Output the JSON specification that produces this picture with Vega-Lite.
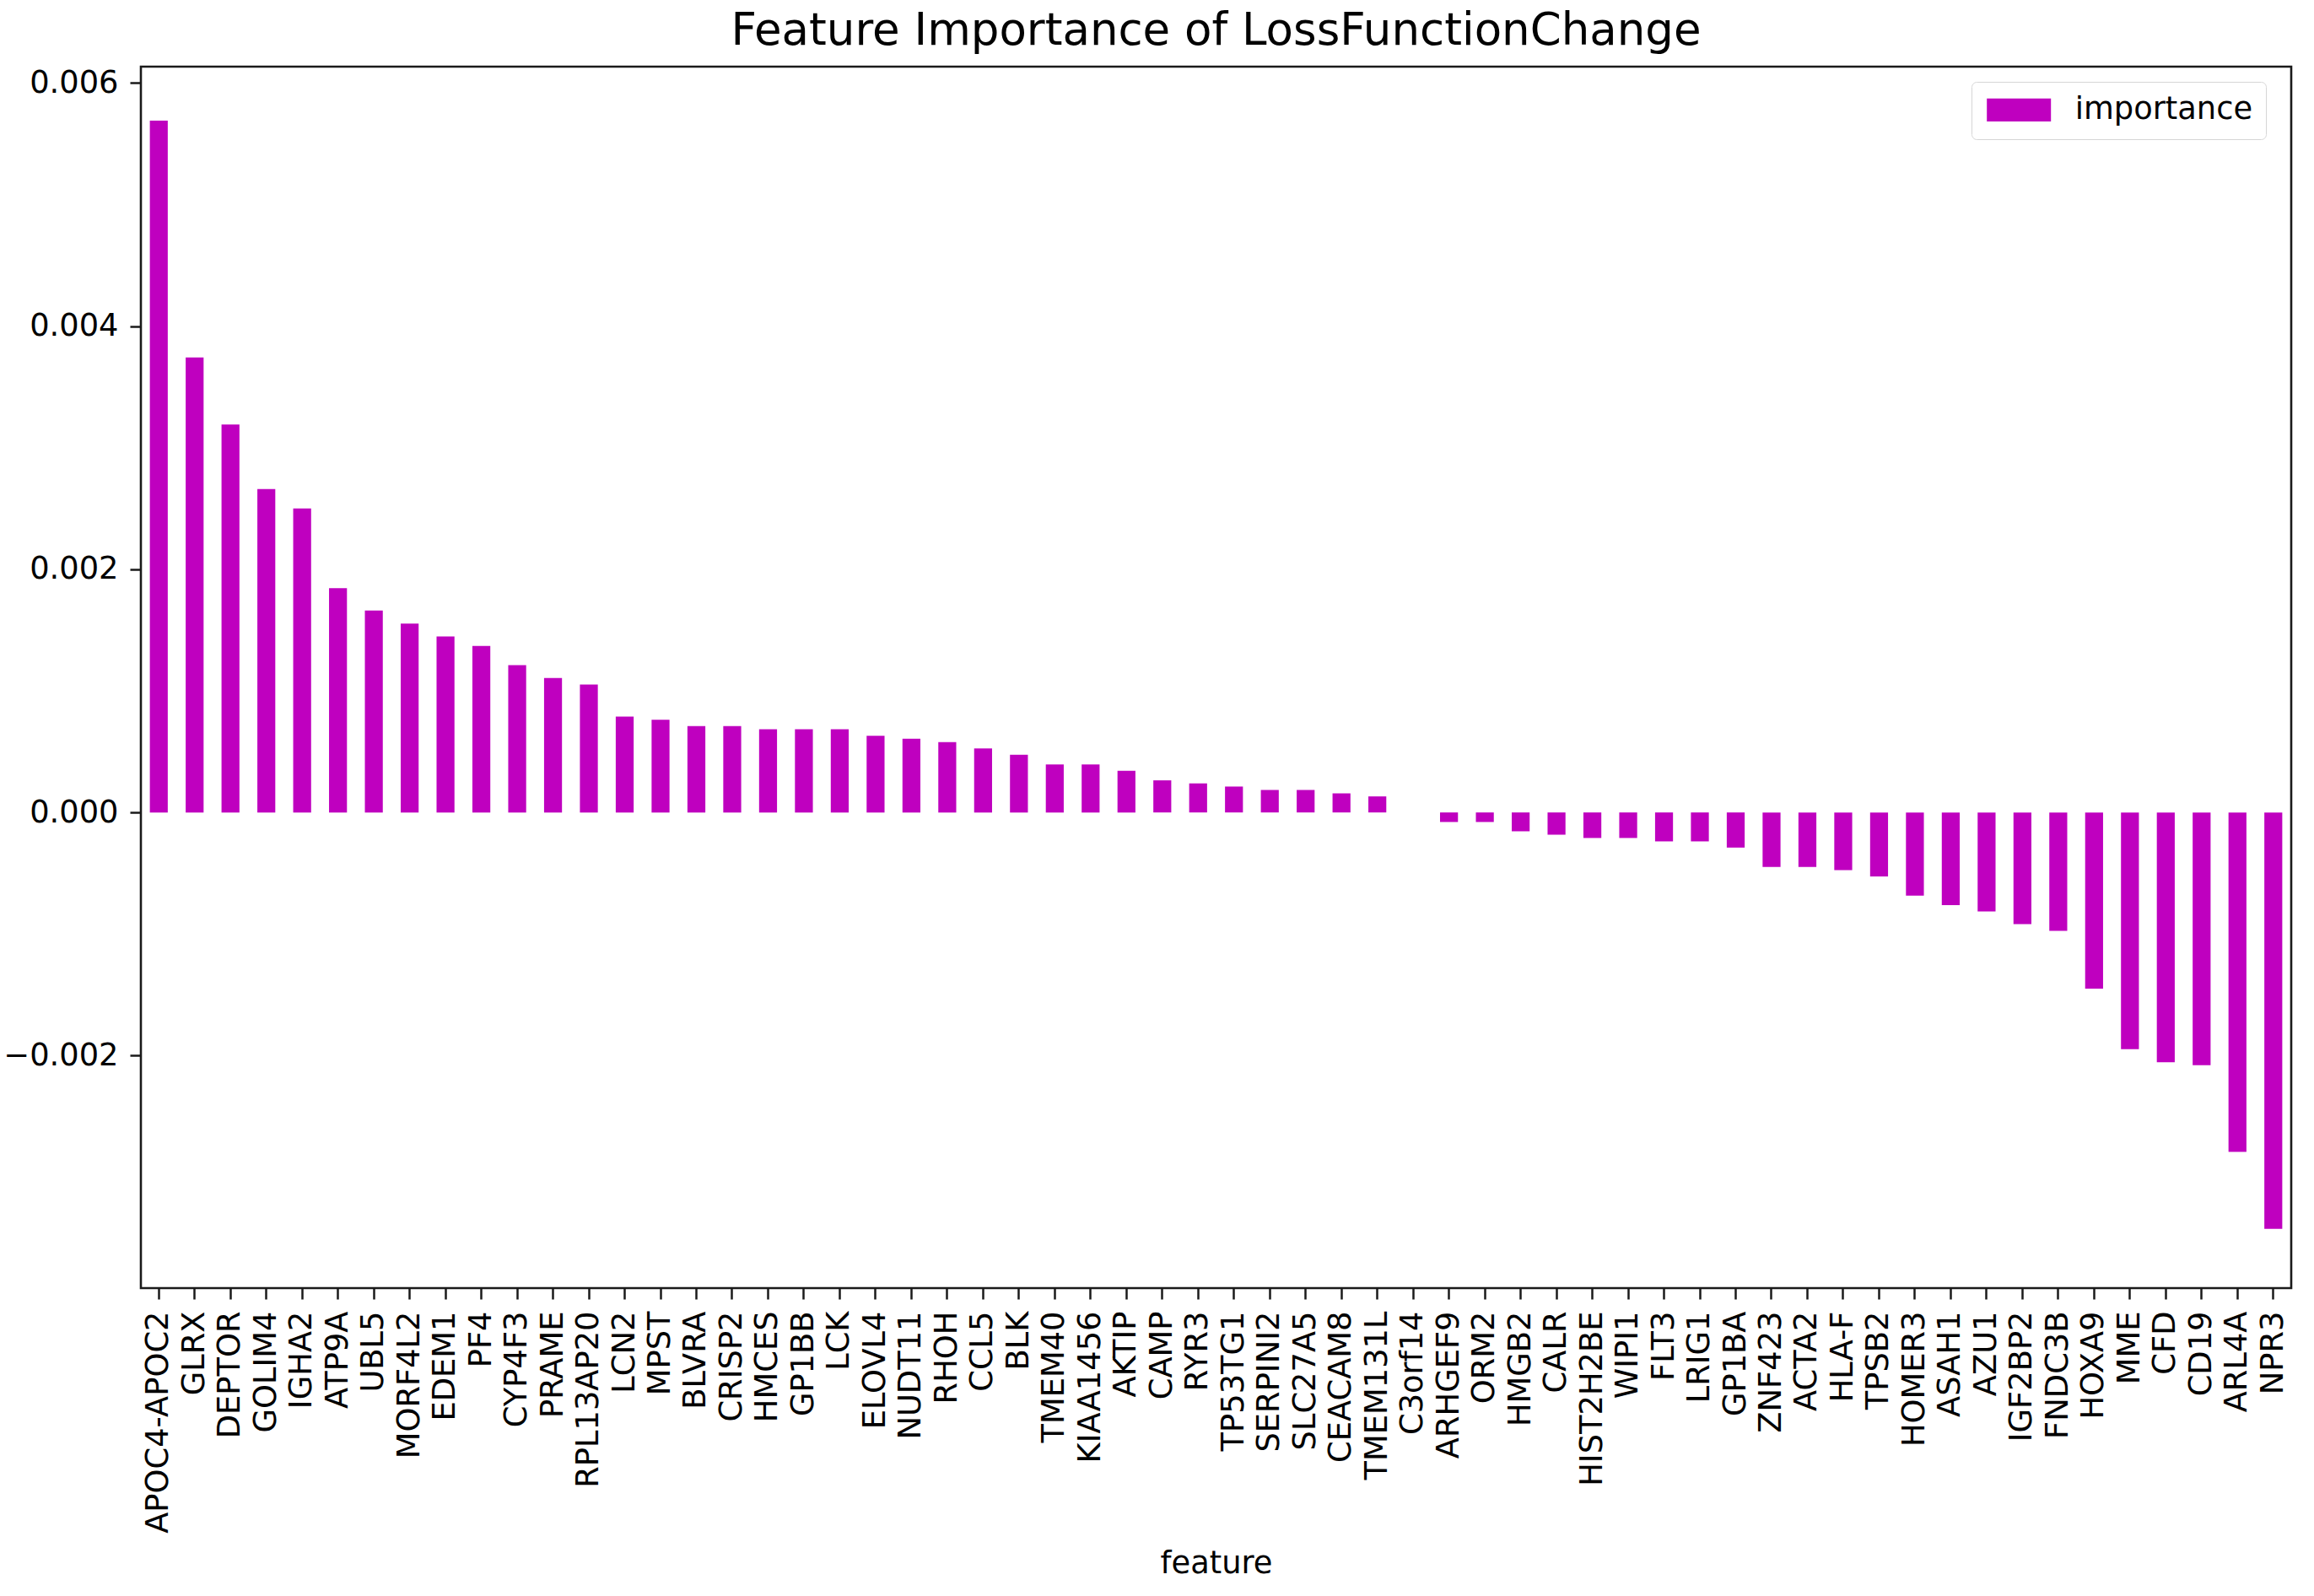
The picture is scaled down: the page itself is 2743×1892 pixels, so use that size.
{
  "$schema": "https://vega.github.io/schema/vega-lite/v6.json",
  "width": 2549,
  "height": 1448,
  "autosize": {"type": "none"},
  "padding": {"left": 167, "top": 79, "right": 27, "bottom": 365},
  "background": "white",
  "title": {
    "text": "Feature Importance of LossFunctionChange",
    "font": "DejaVu Sans",
    "fontSize": 53,
    "fontWeight": "normal",
    "color": "#000000",
    "anchor": "middle",
    "frame": "group",
    "offset": 15
  },
  "config": {
    "view": {"stroke": "#1a1a1a", "strokeWidth": 2.6},
    "font": "DejaVu Sans"
  },
  "data": {
    "values": [
      {"feature": "APOC4-APOC2", "importance": 0.00569},
      {"feature": "GLRX", "importance": 0.003742},
      {"feature": "DEPTOR", "importance": 0.00319},
      {"feature": "GOLIM4", "importance": 0.00266},
      {"feature": "IGHA2", "importance": 0.0025},
      {"feature": "ATP9A", "importance": 0.001845},
      {"feature": "UBL5", "importance": 0.00166},
      {"feature": "MORF4L2", "importance": 0.001554},
      {"feature": "EDEM1", "importance": 0.001448},
      {"feature": "PF4", "importance": 0.00137},
      {"feature": "CYP4F3", "importance": 0.001212},
      {"feature": "PRAME", "importance": 0.001106},
      {"feature": "RPL13AP20", "importance": 0.001052},
      {"feature": "LCN2", "importance": 0.000789},
      {"feature": "MPST", "importance": 0.000763},
      {"feature": "BLVRA", "importance": 0.00071},
      {"feature": "CRISP2", "importance": 0.00071},
      {"feature": "HMCES", "importance": 0.000685},
      {"feature": "GP1BB", "importance": 0.000685},
      {"feature": "LCK", "importance": 0.000685},
      {"feature": "ELOVL4", "importance": 0.000631},
      {"feature": "NUDT11", "importance": 0.000606},
      {"feature": "RHOH", "importance": 0.000578},
      {"feature": "CCL5", "importance": 0.000527},
      {"feature": "BLK", "importance": 0.000474},
      {"feature": "TMEM40", "importance": 0.000395},
      {"feature": "KIAA1456", "importance": 0.000395},
      {"feature": "AKTIP", "importance": 0.000343},
      {"feature": "CAMP", "importance": 0.000264},
      {"feature": "RYR3", "importance": 0.000239},
      {"feature": "TP53TG1", "importance": 0.000213},
      {"feature": "SERPINI2", "importance": 0.000185},
      {"feature": "SLC27A5", "importance": 0.000185},
      {"feature": "CEACAM8", "importance": 0.000157},
      {"feature": "TMEM131L", "importance": 0.000132},
      {"feature": "C3orf14", "importance": 0.0},
      {"feature": "ARHGEF9", "importance": -0.0000785},
      {"feature": "ORM2", "importance": -0.0000785},
      {"feature": "HMGB2", "importance": -0.000155},
      {"feature": "CALR", "importance": -0.000183},
      {"feature": "HIST2H2BE", "importance": -0.00021},
      {"feature": "WIPI1", "importance": -0.00021},
      {"feature": "FLT3", "importance": -0.000238},
      {"feature": "LRIG1", "importance": -0.000238},
      {"feature": "GP1BA", "importance": -0.000289},
      {"feature": "ZNF423", "importance": -0.000448},
      {"feature": "ACTA2", "importance": -0.000448},
      {"feature": "HLA-F", "importance": -0.000474},
      {"feature": "TPSB2", "importance": -0.000527},
      {"feature": "HOMER3", "importance": -0.000684},
      {"feature": "ASAH1", "importance": -0.000762},
      {"feature": "AZU1", "importance": -0.000815},
      {"feature": "IGF2BP2", "importance": -0.000918},
      {"feature": "FNDC3B", "importance": -0.000973},
      {"feature": "HOXA9", "importance": -0.001449},
      {"feature": "MME", "importance": -0.001947},
      {"feature": "CFD", "importance": -0.002054},
      {"feature": "CD19", "importance": -0.002078},
      {"feature": "ARL4A", "importance": -0.002792},
      {"feature": "NPR3", "importance": -0.003425}
    ]
  },
  "mark": {"type": "bar"},
  "encoding": {
    "x": {
      "field": "feature",
      "type": "nominal",
      "sort": null,
      "scale": {"paddingInner": 0.5, "paddingOuter": 0.25},
      "axis": {
        "title": "feature",
        "titleFont": "DejaVu Sans",
        "titleFontSize": 36.8,
        "titleFontWeight": "normal",
        "titleColor": "#000000",
        "titleY": 326,
        "titleBaseline": "middle",
        "labelAngle": -90,
        "labelFont": "DejaVu Sans",
        "labelFontSize": 36.8,
        "labelColor": "#000000",
        "labelPadding": 14,
        "labelOverlap": false,
        "labelLimit": 1000,
        "domain": false,
        "ticks": true,
        "tickSize": 13,
        "tickWidth": 2.5,
        "tickColor": "#1a1a1a",
        "grid": false
      }
    },
    "y": {
      "field": "importance",
      "type": "quantitative",
      "scale": {"domain": [-0.003912, 0.006134], "nice": false},
      "axis": {
        "title": null,
        "values": [-0.002, 0, 0.002, 0.004, 0.006],
        "format": ".3f",
        "labelFont": "DejaVu Sans",
        "labelFontSize": 36.8,
        "labelColor": "#000000",
        "labelPadding": 14,
        "domain": false,
        "ticks": true,
        "tickSize": 13,
        "tickWidth": 2.5,
        "tickColor": "#1a1a1a",
        "grid": false
      }
    },
    "color": {
      "datum": "importance",
      "type": "nominal",
      "scale": {"range": ["#bf00bf"]},
      "legend": {
        "title": null,
        "orient": "none",
        "legendX": 2170,
        "legendY": 18,
        "padding": 15,
        "symbolType": "M-1,-0.9L4,-0.9L4,0.9L-1,0.9Z",
        "symbolSize": 924,
        "symbolStrokeWidth": 0,
        "labelFont": "DejaVu Sans",
        "labelFontSize": 36.8,
        "labelColor": "#000000",
        "labelOffset": 71,
        "labelLimit": 600,
        "strokeColor": "#d6d6d6",
        "fillColor": "#ffffff",
        "cornerRadius": 6
      }
    }
  }
}
